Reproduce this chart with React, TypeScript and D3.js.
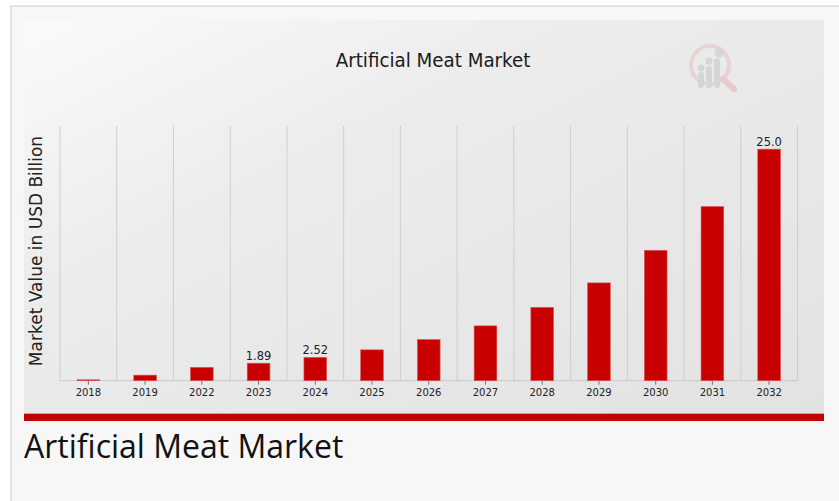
import React from "react";
import * as d3 from "d3";

const years = ["2018", "2019", "2022", "2023", "2024", "2025", "2026", "2027", "2028", "2029", "2030", "2031", "2032"];
const values = [0.1, 0.6, 1.44, 1.89, 2.52, 3.33, 4.44, 5.92, 7.92, 10.56, 14.08, 18.8, 25.0];
const labelYears = ["2023", "2024", "2032"];
const labelTexts = ["1.89", "2.52", "25.0"];

const W = 839;
const H = 501;
const plot = { left: 60, right: 797.5, top: 126, bottom: 380.7 };

export default function App() {
  const x = d3.scaleBand<string>().domain(years).range([plot.left, plot.right]).paddingInner(0).paddingOuter(0);
  const y = d3.scaleLinear().domain([0, 27.5]).range([plot.bottom, plot.top]);
  const bw = x.bandwidth() * 0.4;
  const boundaries = years.map((d) => x(d)!).concat([plot.right]);
  return (
    <svg width={W} height={H} style={{ position: "absolute", left: 0, top: 0 }} xmlns="http://www.w3.org/2000/svg">
      <defs>
        <linearGradient id="bg" x1="0" y1="0" x2="1" y2="1">
          <stop offset="0" stopColor="#fafafa" />
          <stop offset="0.35" stopColor="#ececec" />
          <stop offset="1" stopColor="#e2e2e2" />
        </linearGradient>
      </defs>
      <rect x={0} y={0} width={W} height={H} fill="#ffffff" />
      <rect x={11} y={6} width={W} height={H} fill="#f7f7f7" stroke="#e3e3e3" strokeWidth={2} />
      <rect x={24} y={20} width={800} height={393} fill="url(#bg)" />
      {/* logo */}
      <g opacity={0.75}>
        <circle cx={710} cy={65} r={19} fill="none" stroke="#e8cccc" strokeWidth={4} />
        <line x1={723} y1={79} x2={734} y2={89} stroke="#e6c0c0" strokeWidth={6} strokeLinecap="round" />
        <rect x={698} y={72} width={6} height={16} rx={3} fill="#cfcfcf" />
        <rect x={706} y={66} width={6} height={22} rx={3} fill="#cfcfcf" />
        <rect x={714} y={58} width={6} height={30} rx={3} fill="#cfcfcf" />
        <circle cx={701} cy={68} r={3.5} fill="#cfcfcf" />
        <circle cx={709} cy={61} r={3.5} fill="#cfcfcf" />
        <circle cx={719} cy={53} r={4.5} fill="#cfcfcf" />
      </g>
      <text x={433} y={67} textAnchor="middle" fontFamily="DejaVu Sans Condensed, DejaVu Sans" fontSize={20.3} fill="#1a1a1a">
        Artificial Meat Market
      </text>
      {boundaries.map((b, i) => (
        <line key={i} x1={b} x2={b} y1={plot.top} y2={plot.bottom} stroke="#cfcfcf" strokeWidth={1} />
      ))}
      <line x1={plot.left} x2={plot.right} y1={plot.bottom} y2={plot.bottom} stroke="#c8c8c8" strokeWidth={1} />
      {years.map((d, i) => {
        const cx = x(d)! + x.bandwidth() / 2;
        return (
          <g key={d}>
            <rect x={cx - bw / 2} y={y(values[i])} width={bw} height={plot.bottom - y(values[i])} fill="#c80000" stroke="#dd5555" strokeWidth={0.6} />
            <line x1={cx} x2={cx} y1={plot.bottom} y2={plot.bottom + 4} stroke="#777" strokeWidth={1} />
            <text x={cx} y={396} textAnchor="middle" fontFamily="DejaVu Sans" fontSize={10} fill="#222">
              {d}
            </text>
          </g>
        );
      })}
      {labelYears.map((d, i) => {
        const idx = years.indexOf(d);
        const cx = x(d)! + x.bandwidth() / 2;
        return (
          <text key={d} x={cx} y={y(values[idx]) - 3} textAnchor="middle" fontFamily="DejaVu Sans" fontSize={11.5} fill="#222">
            {labelTexts[i]}
          </text>
        );
      })}
      <text transform={`translate(42,251) rotate(-90)`} textAnchor="middle" fontFamily="DejaVu Sans" fontSize={17} fill="#222">
        Market Value in USD Billion
      </text>
      <rect x={24} y={413} width={800} height={8} fill="#c40000" />
      <line x1={24} x2={824} y1={413.5} y2={413.5} stroke="#d99" strokeWidth={1} />
      <text x={24} y={458} fontFamily="Open Sans" fontSize={32} fill="#111">
        Artificial Meat Market
      </text>
    </svg>
  );
}
